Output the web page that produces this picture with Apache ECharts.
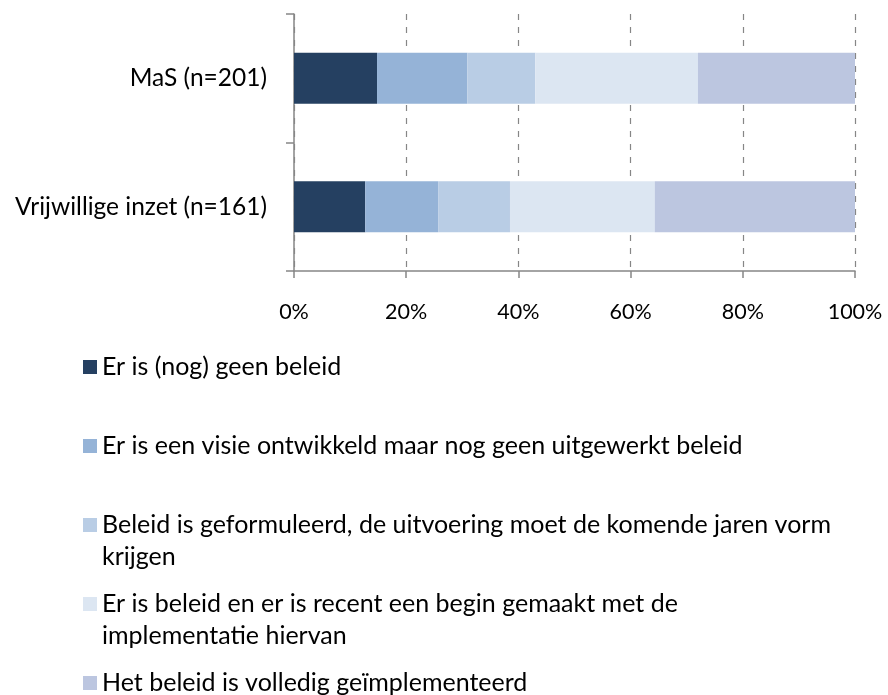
<!DOCTYPE html>
<html>
<head>
<meta charset="utf-8">
<script src="https://cdn.jsdelivr.net/npm/echarts@6/dist/echarts.min.js"></script>
<style>
  html, body { margin: 0; padding: 0; background: #fff; }
  #chart { width: 888px; height: 695px; }
</style>
</head>
<body>
<div id="chart"></div>
<script>
const categories = ['MaS (n=201)', 'Vrijwillige inzet (n=161)'];
const seriesNames = [
  'Er is (nog) geen beleid',
  'Er is een visie ontwikkeld maar nog geen uitgewerkt beleid',
  'Beleid is geformuleerd, de uitvoering moet de komende jaren vorm krijgen',
  'Er is beleid en er is recent een begin gemaakt met de implementatie hiervan',
  'Het beleid is volledig geïmplementeerd'
];
// percentages per series, same order as seriesNames
const masValues = [14.8, 16.1, 12.1, 29.0, 28.0];
const vrijwilligeValues = [12.7, 13.0, 12.8, 25.8, 35.7];
const xTickValues = [0, 20, 40, 60, 80, 100];

const colors = ['#254061', '#95B3D7', '#B9CDE5', '#DCE6F2', '#BCC6E0'];
const FONT = 'Lato';
const AXIS_GRAY = '#868686';

// pick a font size so the text matches the width it has in the original
function fitSize(text, width) {
  const ctx = document.createElement('canvas').getContext('2d');
  ctx.font = '100px ' + FONT;
  return Math.round(100 * width / ctx.measureText(text).width * 2) / 2;
}
const catSize = fitSize('Vrijwillige inzet (n=161)', 254);
const legendSize = fitSize('Er is (nog) geen beleid', 237);
const axisSize = fitSize('20%', 42);

// legend text is centred on the icon; a leading empty line keeps the
// icon next to the first line of the wrapped items
const wrapLegend = name => {
  const w = name
    .replace(' vorm krijgen', ' vorm\nkrijgen')
    .replace(' de implementatie', ' de\nimplementatie');
  return w.indexOf('\n') >= 0 ? '\n' + w : w;
};

const LINE_H = 32;
const legends = seriesNames.map((name, i) => {
  const lines = wrapLegend(name).split('\n').length;
  const centerY = 367 + 79 * i;
  return {
    data: [name],
    orient: 'vertical',
    left: 83,
    top: centerY - lines * LINE_H / 2,
    padding: 0,
    itemWidth: 14,
    itemHeight: 14,
    icon: 'rect',
    selectedMode: false,
    formatter: wrapLegend,
    textStyle: {
      fontFamily: FONT,
      fontSize: legendSize,
      color: '#000',
      lineHeight: LINE_H
    }
  };
});

const series = seriesNames.map((name, i) => ({
  name: name,
  type: 'bar',
  stack: 'total',
  barWidth: 51,
  itemStyle: { color: colors[i] },
  emphasis: { disabled: true },
  data: [masValues[i], vrijwilligeValues[i]]
}));

const chart = echarts.init(document.getElementById('chart'), null, { renderer: 'canvas' });
chart.setOption({
  animation: false,
  backgroundColor: '#fff',
  textStyle: { fontFamily: FONT },
  grid: { left: 294, right: 33, top: 14, bottom: 424, containLabel: false, outerBoundsMode: 'none' },
  xAxis: {
    type: 'value',
    min: xTickValues[0],
    max: xTickValues[xTickValues.length - 1],
    interval: xTickValues[1] - xTickValues[0],
    axisLine: { show: true, lineStyle: { color: AXIS_GRAY, width: 1.5 } },
    axisTick: { show: true, length: 7, lineStyle: { color: AXIS_GRAY, width: 1.5 } },
    splitLine: { show: true, lineStyle: { color: AXIS_GRAY, type: [6, 7], width: 1.2 } },
    axisLabel: {
      formatter: '{value}%',
      fontFamily: FONT,
      fontSize: axisSize,
      color: '#000',
      margin: 30
    }
  },
  yAxis: {
    type: 'category',
    inverse: true,
    data: categories,
    axisLine: { show: true, lineStyle: { color: AXIS_GRAY, width: 1.5 } },
    axisTick: { show: true, length: 8, interval: 0, lineStyle: { color: AXIS_GRAY, width: 1.5 } },
    axisLabel: {
      fontFamily: FONT,
      fontSize: catSize,
      color: '#000',
      margin: 27
    }
  },
  legend: legends,
  series: series
});
</script>
</body>
</html>
